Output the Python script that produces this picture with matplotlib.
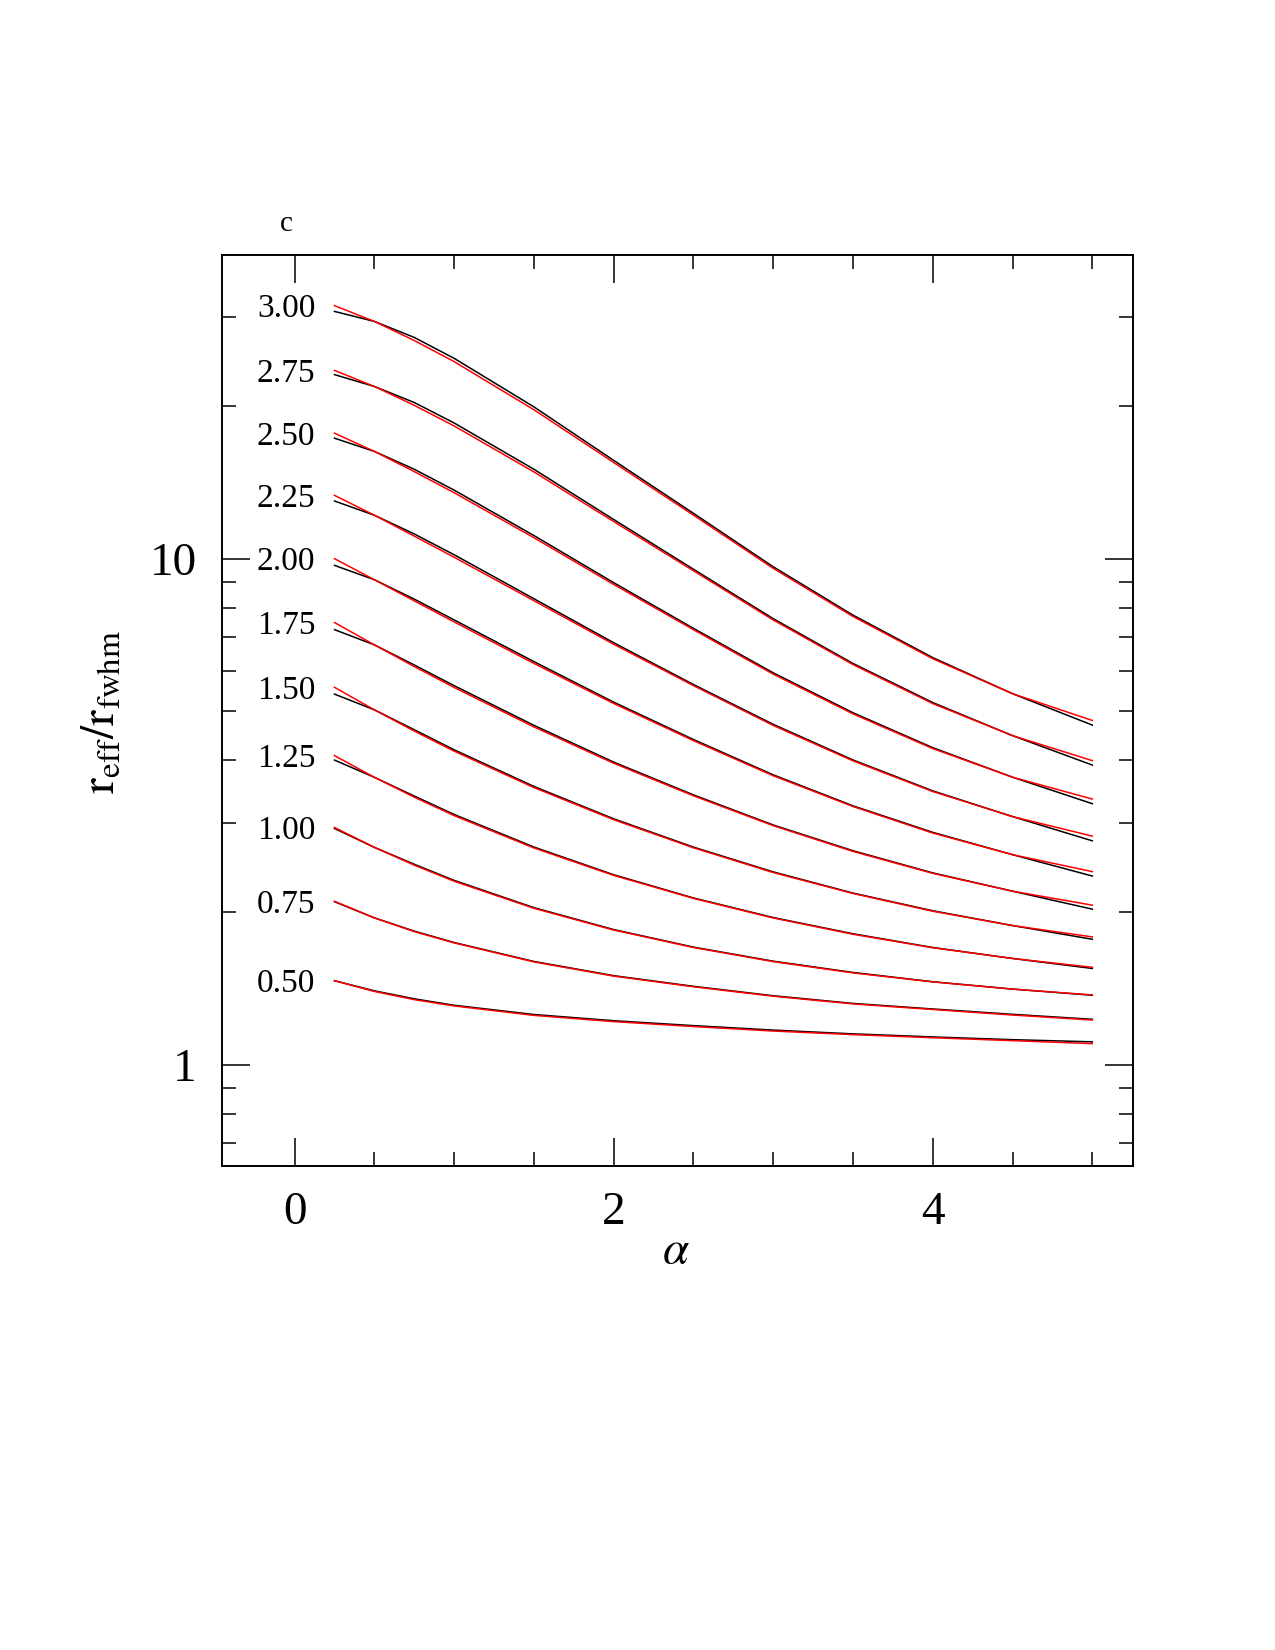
import matplotlib
matplotlib.use("Agg")
import matplotlib.pyplot as plt
from matplotlib.ticker import FixedLocator, NullFormatter, FixedFormatter

plt.rcParams['font.family'] = ['Liberation Serif', 'DejaVu Serif']
plt.rcParams['mathtext.fontset'] = 'stix'

alpha = [0.25, 0.5, 0.75, 1.0, 1.5, 2.0, 2.5, 3.0, 3.5, 4.0, 4.5, 5.0]

c_labels = ['3.00', '2.75', '2.50', '2.25', '2.00', '1.75',
            '1.50', '1.25', '1.00', '0.75', '0.50']

# black: measured r_eff / r_fwhm
data_300 = [30.8, 29.43, 27.36, 24.88, 19.95, 15.64, 12.29, 9.637, 7.734, 6.375, 5.41, 4.69]
data_275 = [23.1, 21.89, 20.35, 18.54, 15.02, 11.95, 9.53, 7.611, 6.208, 5.196, 4.47, 3.91]
data_250 = [17.3, 16.29, 15.02, 13.66, 11.11, 8.966, 7.283, 5.949, 4.961, 4.232, 3.70, 3.28]
data_225 = [13.0, 12.185, 11.19, 10.18, 8.334, 6.822, 5.641, 4.706, 4.002, 3.477, 3.093, 2.77]
data_200 = [9.70, 9.086, 8.319, 7.568, 6.26, 5.206, 4.392, 3.74, 3.248, 2.879, 2.601, 2.36]
data_175 = [7.24, 6.756, 6.165, 5.611, 4.685, 3.963, 3.414, 2.977, 2.648, 2.394, 2.203, 2.03]
data_150 = [5.40, 5.027, 4.592, 4.191, 3.548, 3.062, 2.692, 2.405, 2.184, 2.015, 1.884, 1.77]
data_125 = [4.00, 3.698, 3.396, 3.123, 2.693, 2.374, 2.136, 1.954, 1.815, 1.705, 1.622, 1.55]
data_100 = [2.93, 2.689, 2.49, 2.314, 2.044, 1.85, 1.708, 1.602, 1.522, 1.459, 1.411, 1.372]
data_075 = [2.10, 1.951, 1.837, 1.744, 1.60, 1.50, 1.429, 1.369, 1.322, 1.289, 1.258, 1.23]
data_050 = [1.466, 1.40, 1.35, 1.311, 1.257, 1.222, 1.195, 1.171, 1.151, 1.135, 1.121, 1.11]

# red: fitted curves
fit_300 = [31.62, 29.43, 26.98, 24.51, 19.69, 15.49, 12.19, 9.57, 7.688, 6.343, 5.41, 4.79]
fit_275 = [23.55, 21.89, 20.09, 18.29, 14.84, 11.84, 9.465, 7.566, 6.177, 5.173, 4.47, 3.99]
fit_250 = [17.70, 16.29, 14.86, 13.50, 11.0, 8.895, 7.24, 5.914, 4.936, 4.215, 3.70, 3.35]
fit_225 = [13.34, 12.185, 11.08, 10.065, 8.26, 6.775, 5.613, 4.683, 3.986, 3.467, 3.093, 2.83]
fit_200 = [10.0, 9.086, 8.253, 7.50, 6.21, 5.175, 4.37, 3.725, 3.238, 2.870, 2.601, 2.408]
fit_175 = [7.48, 6.756, 6.122, 5.566, 4.652, 3.943, 3.40, 2.968, 2.640, 2.389, 2.203, 2.067]
fit_150 = [5.57, 5.027, 4.565, 4.166, 3.53, 3.05, 2.684, 2.398, 2.180, 2.011, 1.884, 1.789]
fit_125 = [4.083, 3.698, 3.379, 3.107, 2.682, 2.367, 2.132, 1.950, 1.811, 1.703, 1.622, 1.558]
fit_100 = [2.944, 2.689, 2.48, 2.305, 2.038, 1.846, 1.705, 1.599, 1.519, 1.458, 1.411, 1.374]
fit_075 = [2.104, 1.951, 1.833, 1.741, 1.597, 1.497, 1.426, 1.366, 1.319, 1.286, 1.254, 1.226]
fit_050 = [1.466, 1.396, 1.345, 1.307, 1.252, 1.217, 1.190, 1.166, 1.147, 1.131, 1.116, 1.101]

data = [data_300, data_275, data_250, data_225, data_200, data_175,
        data_150, data_125, data_100, data_075, data_050]
fits = [fit_300, fit_275, fit_250, fit_225, fit_200, fit_175,
        fit_150, fit_125, fit_100, fit_075, fit_050]

W, H = 1275, 1650
fig = plt.figure(figsize=(W / 100, H / 100), dpi=100)
ax = fig.add_axes([222 / W, 1 - 1166 / H, 911 / W, 911 / H])

for d, f in zip(data, fits):
    ax.plot(alpha, d, color='black', lw=1.1)
    ax.plot(alpha, f, color='red', lw=1.1)

for lab, f in zip(c_labels, fits):
    ax.text(0.13, f[0], lab, ha='right', va='center_baseline', fontsize=24)

ax.set_yscale('log')
ax.set_xlim(-0.455, 5.255)
ax.set_ylim(10 ** -0.2, 10 ** 1.6)

ax.xaxis.set_major_locator(FixedLocator([0, 2, 4]))
ax.xaxis.set_minor_locator(FixedLocator([0.5, 1, 1.5, 2.5, 3, 3.5, 4.5, 5]))
ax.yaxis.set_major_locator(FixedLocator([1, 10]))
ax.yaxis.set_major_formatter(FixedFormatter(['1', '10']))
ax.yaxis.set_minor_locator(FixedLocator([0.7, 0.8, 0.9, 2, 3, 4, 5, 6, 7, 8, 9, 20, 30]))
ax.yaxis.set_minor_formatter(NullFormatter())

ax.tick_params(which='both', direction='in', top=True, right=True, width=1.1)
ax.tick_params(which='major', length=20, labelsize=34, pad=18)
ax.tick_params(which='minor', length=10)
for s in ax.spines.values():
    s.set_linewidth(1.4)

fig.text(286 / W, 1 - 224 / H, 'c', ha='center', va='center', fontsize=21)
fig.text(676 / W, 1 - 1252 / H, r'$\alpha$', ha='center', va='center', fontsize=34)
fig.text(102 / W, 1 - 712 / H, r'$\mathrm{r_{eff}/r_{fwhm}}$', ha='center', va='center',
         rotation=90, fontsize=34)

fig.savefig('out.png', dpi=100)
